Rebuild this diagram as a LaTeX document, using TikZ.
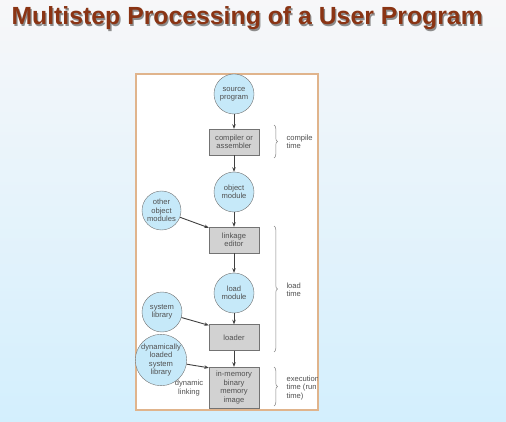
\documentclass[tikz,border=0pt]{standalone}
\usepackage{fontspec}
\setmainfont{Liberation Sans}
\usetikzlibrary{arrows.meta,positioning,decorations.pathreplacing}
\definecolor{TitleRed}{HTML}{8A3414}
\definecolor{FrameTan}{HTML}{E0B48C}
\definecolor{ModuleBlue}{HTML}{C6E9F9}
\definecolor{StepGray}{HTML}{D2D2D2}
\definecolor{InkGray}{HTML}{505050}
\definecolor{SlideTop}{HTML}{F7F7F9}
\definecolor{SlideBottom}{HTML}{D3EFFD}

\begin{document}
\begin{tikzpicture}[x=1pt,y=-1pt,
    every node/.style={font=\fontsize{7.6}{8.5}\selectfont,text=InkGray},
    module/.style={circle,draw=InkGray!80,fill=ModuleBlue,
                   minimum size=40pt,inner sep=0pt,align=center},
    stepbox/.style={rectangle,draw=InkGray!80,fill=StepGray,
                    minimum width=50pt,minimum height=26pt,
                    inner sep=1pt,align=center},
    flow/.style={-{Stealth[length=4.5pt,width=3.5pt]},line width=0.9pt,draw=black!75},
    timebrace/.style={decorate,decoration={brace,amplitude=3.5pt},
                      draw=InkGray!70,line width=0.5pt},
    timelabel/.style={anchor=west,align=left},
    slidetitle/.style={anchor=base west,font=\fontsize{24.8}{28}\selectfont\bfseries}]
  \useasboundingbox (0,0) rectangle (506,422);
  % slide background
  \shade[top color=SlideTop,bottom color=SlideBottom] (0,0) rectangle (506,422);
  \node[slidetitle,text=black!45] (titleshadow) at (9.3,26.3)
    {Multistep Processing of a User Program};
  \node[slidetitle,text=TitleRed] (title) at (8,25)
    {Multistep Processing of a User Program};
  % figure frame
  \draw[FrameTan,line width=2pt,fill=white] (136,74) rectangle (318,410);

  % main chain
  \node[module] (src) at (234,94) {source\\program};
  \node[stepbox] (comp) at (234,142) {compiler or\\assembler};
  \node[module] (obj) at (234,192) {object\\module};
  \node[stepbox] (link) at (234,240) {linkage\\editor};
  \node[module] (load) at (234,293) {load\\module};
  \node[stepbox] (loader) at (234,337.5) {loader};
  \node[stepbox,minimum height=41pt] (mem) at (234,387.5)
    {in-memory\\binary\\memory\\image};

  % side inputs
  \node[module,minimum size=39pt] (othmod) at (161.5,210.5) {other\\object\\modules};
  \node[module] (syslib) at (162,312) {system\\library};
  \node[module,minimum size=45pt] (dynlib) at (161,360)
    {dynamically\\loaded\\system\\library};
  \node[align=center] (dynlink) at (189,388) {dynamic\\linking};

  \draw[flow] (src) -- (comp);
  \draw[flow] (comp) -- (obj);
  \draw[flow] (obj) -- (link);
  \draw[flow] (link) -- (load);
  \draw[flow] (load) -- (loader);
  \draw[flow] (loader) -- (mem);
  \draw[flow] (othmod) -- ([yshift=-1pt]link.north west);
  \draw[flow] (syslib) -- ([yshift=-1pt]loader.north west);
  \draw[flow] (dynlib) -- ([yshift=-1pt]mem.north west);

  % time braces
  \coordinate (ctop) at (274,125);
  \coordinate (cbot) at (274,158);
  \coordinate (ltop) at (274,226);
  \coordinate (lbot) at (274,352);
  \coordinate (etop) at (274,367);
  \coordinate (ebot) at (274,406);
  \draw[timebrace] (ctop) -- (cbot);
  \draw[timebrace] (ltop) -- (lbot);
  \draw[timebrace] (etop) -- (ebot);
  \node[timelabel] (ctime) at (283,142) {compile\\time};
  \node[timelabel] (ltime) at (283,290) {load\\time};
  \begin{scope}
    \clip (136,74) rectangle (317,410);
    \node[timelabel] (etime) at (283,388) {execution\\time (run\\time)};
  \end{scope}
\end{tikzpicture}
\end{document}
